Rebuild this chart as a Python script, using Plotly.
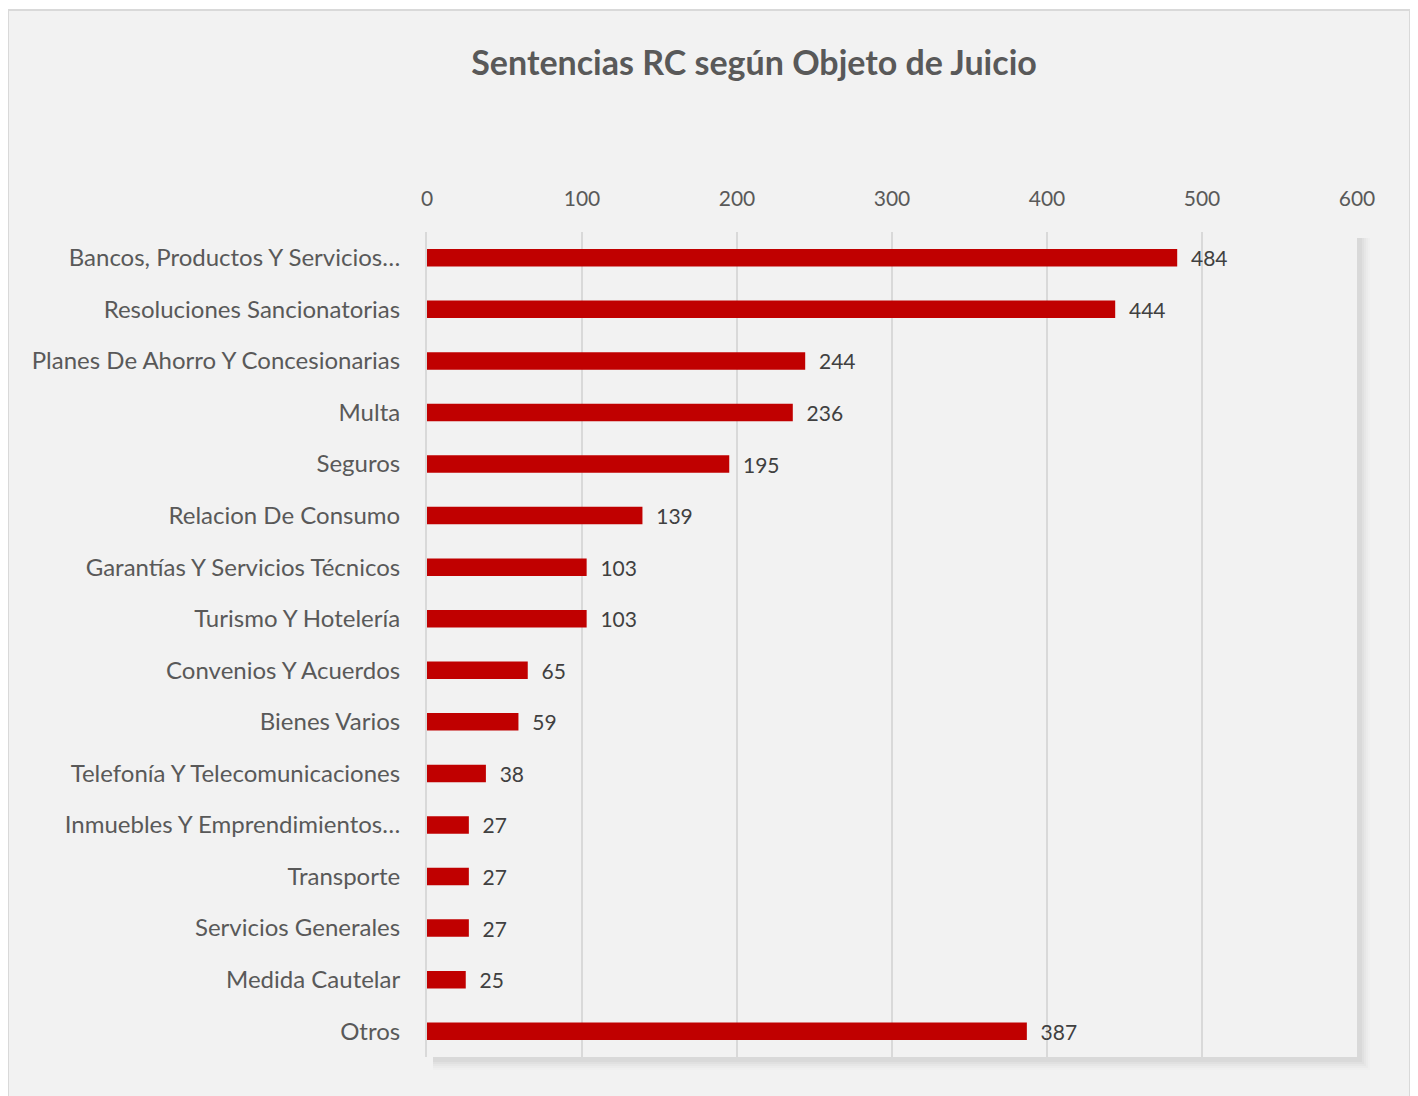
import plotly.graph_objects as go

categories = [
    "Bancos, Productos Y Servicios…",
    "Resoluciones Sancionatorias",
    "Planes De Ahorro Y Concesionarias",
    "Multa",
    "Seguros",
    "Relacion De Consumo",
    "Garantías Y Servicios Técnicos",
    "Turismo Y Hotelería",
    "Convenios Y Acuerdos",
    "Bienes Varios",
    "Telefonía Y Telecomunicaciones",
    "Inmuebles Y Emprendimientos…",
    "Transporte",
    "Servicios Generales",
    "Medida Cautelar",
    "Otros",
]
values = [484, 444, 244, 236, 195, 139, 103, 103, 65, 59, 38, 27, 27, 27, 25, 387]
tick_vals = [0, 100, 200, 300, 400, 500, 600]

OFF = 8  # page body margin
W, H = 1418 - OFF, 1096 - OFF
L, R, T, B = 427, 1357, 232, 1057  # target page pixels
pw, ph = R - L, B - T


def px(x):
    return (x - L) / pw


def py(y):
    return (B - y) / ph


FONT = "Lato"

fig = go.Figure()
fig.add_trace(go.Bar(
    x=values, y=categories, orientation="h",
    marker=dict(color="#c00000", line=dict(width=0)),
    text=["\u00a0\u00a0" + str(v) for v in values], textposition="outside",
    textfont=dict(family=FONT, size=21, color="#404040"),
    constraintext="none",
    cliponaxis=False, width=0.34,
))

shapes = []
# outer frame
shapes.append(dict(type="rect", xref="paper", yref="paper",
                   x0=px(8), x1=px(1410), y0=py(1110), y1=py(10),
                   fillcolor="#f2f2f2", line=dict(color="#d9d9d9", width=2), layer="below"))
# right frame shadow
for i, c in enumerate(["#bfbfbf", "#cfcfcf", "#dedede", "#ececec"]):
    shapes.append(dict(type="rect", xref="paper", yref="paper",
                       x0=px(1411 + i * 2), x1=px(1413 + i * 2), y0=py(1110), y1=py(12),
                       fillcolor=c, line=dict(width=0), layer="below"))
# plot area shadow (outer to inner)
for i, c in reversed(list(enumerate(["#d9d9d9", "#e0e0e0", "#e6e6e6", "#ebebeb", "#efefef"]))):
    d = i * 2
    shapes.append(dict(type="rect", xref="paper", yref="paper",
                       x0=px(L + 6), x1=px(R + 5 + d), y0=py(B + 5 + d), y1=py(T + 6),
                       fillcolor=c, line=dict(width=0), layer="below"))
shapes.append(dict(type="rect", xref="paper", yref="paper",
                   x0=0, x1=1, y0=0, y1=1,
                   fillcolor="#f2f2f2", line=dict(width=0), layer="below"))

fig.update_layout(
    width=W, height=H,
    margin=dict(l=L - OFF, r=1418 - R, t=T - OFF, b=1096 - B),
    paper_bgcolor="white", plot_bgcolor="rgba(0,0,0,0)",
    showlegend=False,
    shapes=shapes,
    title=dict(text="<b>Sentencias RC según Objeto de Juicio</b>",
               font=dict(family=FONT, size=34, color="#595959"),
               x=(754 - OFF) / W, xref="container", xanchor="center",
               y=1 - (63 - OFF) / H, yref="container", yanchor="middle"),
    xaxis=dict(side="top", range=[0, 600], tickvals=tick_vals,
               showgrid=True, gridcolor="#d9d9d9", gridwidth=2,
               zeroline=False, showline=False, ticks="",
               ticklabelstandoff=21,
               tickfont=dict(family=FONT, size=21, color="#595959")),
    yaxis=dict(autorange="reversed", showgrid=False, zeroline=False,
               showline=True, linecolor="#d9d9d9", linewidth=2,
               ticks="", ticklabelstandoff=20,
               tickfont=dict(family=FONT, size=24, color="#595959")),
    font=dict(family=FONT),
)

fig.write_html("out.html")
